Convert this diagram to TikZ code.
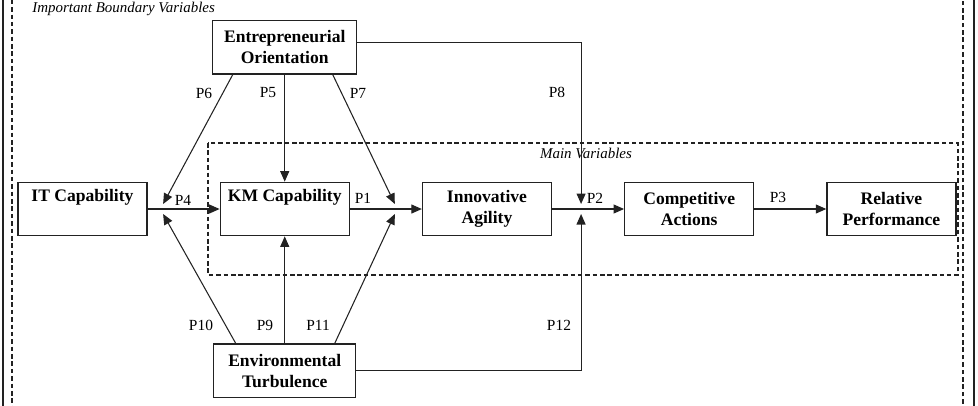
\documentclass[tikz,border=0pt]{standalone}
\usepackage{fontspec}
\setmainfont{Liberation Serif}
\usepackage{tikz}
\usetikzlibrary{arrows.meta,positioning,calc}
\definecolor{LineBlack}{HTML}{222222}

\begin{document}
\begin{tikzpicture}[
    node distance=2.14cm and 1.44cm,
    box/.style={draw=LineBlack,line width=0.7pt,minimum height=1.07cm,minimum width=2.58cm,align=center,font=\bfseries,inner sep=2pt},
    lbl/.style={font=\fontsize{8.8}{10}\selectfont,inner sep=1pt},
    zone/.style={font=\fontsize{8.5}{10}\selectfont\itshape,inner sep=0pt},
    arr/.style={-{Triangle[length=2.1mm,width=1.8mm]},line width=0.6pt,draw=LineBlack},
    link/.style={line width=0.6pt,draw=LineBlack},
    frame/.style={draw=LineBlack,line width=0.6pt,dash pattern=on 2.6pt off 1.6pt}
  ]
    \useasboundingbox (0,0) rectangle (19.56,-8.1);
    \clip (0,0) rectangle (19.56,-8.1);

    % frames
    \draw[link] (0.06,0.3) rectangle (19.48,-8.4);
    \draw[frame] (0.24,0.3) rectangle (19.26,-8.4);
    \draw[frame] (4.16,-2.86) rectangle (19.16,-5.5);
    \node[zone,anchor=base west] (boundary) at (0.64,-0.24) {Important Boundary Variables};
    \node[zone,anchor=base] (mainvars) at (11.72,-3.16) {Main Variables};

    % main row
    \node[box] (itcap) at (1.65,-4.18) {IT Capability\\\strut};
    \node[box,right=of itcap] (kmcap) {KM Capability\\\strut};
    \node[box,right=of kmcap] (agility) {Innovative\\Agility};
    \node[box,right=of agility] (actions) {Competitive\\Actions};
    \node[box,right=of actions] (perf) {Relative\\Performance};
    \node[box,minimum width=2.88cm,above=of kmcap] (eo) {Entrepreneurial\\Orientation};
    \node[box,minimum width=2.84cm,below=of kmcap] (et) {Environmental\\Turbulence};

    % junctions
    \coordinate[right=0.31cm of itcap.east] (j1);
    \coordinate[right=0.9cm of kmcap.east] (j2);
    \coordinate[right=0.58cm of agility.east] (j3);
    \coordinate[above=0.1cm of j1] (j1a);
    \coordinate[below=0.1cm of j1] (j1b);
    \coordinate[above=0.1cm of j2] (j2a);
    \coordinate[below=0.1cm of j2] (j2b);
    \coordinate[above=0.1cm of j3] (j3a);
    \coordinate[below=0.1cm of j3] (j3b);

    \draw[arr] (itcap)--(kmcap);
    \draw[arr] (kmcap)--(agility);
    \draw[arr] (agility)--(actions);
    \draw[arr] (actions)--(perf);

    \draw[arr] ([xshift=-1.04cm]eo.south)--(j1a);
    \draw[arr] (eo)--(kmcap);
    \draw[arr] ([xshift=0.96cm]eo.south)--(j2a);
    \draw[arr] ([yshift=0.09cm]eo.east) -| (j3a);

    \draw[arr] ([xshift=-0.98cm]et.north)--(j1b);
    \draw[arr] (et)--(kmcap);
    \draw[arr] ([xshift=1.0cm]et.north)--(j2b);
    \draw[arr] (et.east) -| (j3b);

    % path labels
    \node[lbl] (p6) at (4.08,-1.86) {P6};
    \node[lbl] (p5) at (5.36,-1.86) {P5};
    \node[lbl] (p7) at (7.16,-1.86) {P7};
    \node[lbl] (p8) at (11.14,-1.84) {P8};
    \node[lbl] (p4) at (3.66,-4.0) {P4};
    \node[lbl] (p1) at (7.26,-3.96) {P1};
    \node[lbl] (p2) at (11.9,-3.96) {P2};
    \node[lbl] (p3) at (15.56,-3.94) {P3};
    \node[lbl] (p10) at (4.02,-6.5) {P10};
    \node[lbl] (p9) at (5.30,-6.5) {P9};
    \node[lbl] (p11) at (6.36,-6.5) {P11};
    \node[lbl] (p12) at (11.18,-6.5) {P12};
  \end{tikzpicture}
\end{document}
